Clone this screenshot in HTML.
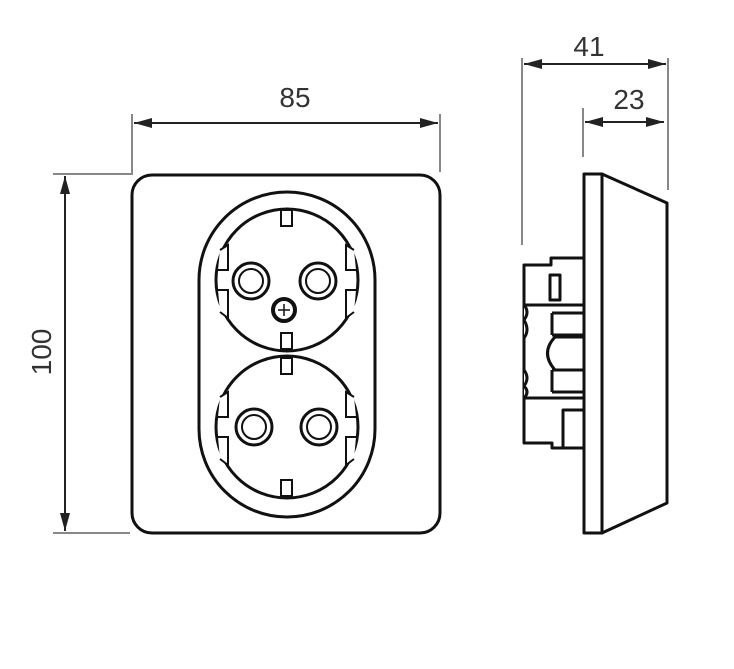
<!DOCTYPE html>
<html><head><style>html,body{margin:0;padding:0;background:#fff}svg{display:block}</style></head>
<body>
<svg width="734" height="669" viewBox="0 0 734 669" xmlns="http://www.w3.org/2000/svg">
<defs>
<marker id="a" markerWidth="18" markerHeight="10" refX="18" refY="5" orient="auto-start-reverse" markerUnits="userSpaceOnUse" viewBox="0 0 18 10"><path d="M0,0 L18,5 L0,10 Z" fill="#222"/></marker>
</defs>
<g stroke="#888" stroke-width="2" fill="none">
<path d="M132,114 V174 H53"/>
<path d="M440,114 V172"/>
<path d="M53,533 H130"/>
<path d="M522,58 V245"/>
<path d="M668,58 V190"/>
<path d="M583,108 V157"/>
</g>
<g stroke="#222" stroke-width="2" fill="none">
<path d="M134,123 H438" marker-start="url(#a)" marker-end="url(#a)"/>
<path d="M65,176 V531" marker-start="url(#a)" marker-end="url(#a)"/>
<path d="M524,64 H666" marker-start="url(#a)" marker-end="url(#a)"/>
<path d="M585,122 H664" marker-start="url(#a)" marker-end="url(#a)"/>
</g>
<g font-family="Liberation Sans, sans-serif" font-size="28" fill="#333" text-anchor="middle">
<text x="295" y="107">85</text>
<text x="589" y="56">41</text>
<text x="629" y="109">23</text>
<text transform="translate(51,352) rotate(-90)">100</text>
</g>
<g stroke="#111" stroke-width="3" fill="none">
<rect x="132" y="175" width="308" height="358" rx="20"/>
<rect x="199" y="192" width="176" height="325" rx="88"/>
<circle cx="287" cy="280" r="71"/>
<circle cx="287" cy="427" r="71"/>
</g>
<g stroke="#111" stroke-width="2" fill="#fff">
<rect x="281" y="210" width="11" height="16"/>
<rect x="281" y="333" width="11" height="16"/>
<rect x="281" y="358" width="11" height="16"/>
<rect x="281" y="480" width="11" height="16"/>
<path d="M220,250 L228,245 L228,270 L218,270"/><path d="M218,290 L228,290 L228,318 L220,312"/>
<path d="M354,250 L346,245 L346,270 L356,270"/><path d="M356,290 L346,290 L346,318 L354,312"/>
<path d="M220,397 L228,392 L228,417 L218,417"/><path d="M218,437 L228,437 L228,465 L220,459"/>
<path d="M354,397 L346,392 L346,417 L356,417"/><path d="M356,437 L346,437 L346,465 L354,459"/>
</g>
<g stroke="#111" fill="none">
<circle cx="251" cy="281" r="18" stroke-width="3"/><circle cx="251" cy="281" r="12" stroke-width="2"/>
<circle cx="318" cy="281" r="18" stroke-width="3"/><circle cx="318" cy="281" r="12" stroke-width="2"/>
<circle cx="254" cy="427" r="18" stroke-width="3"/><circle cx="254" cy="427" r="12" stroke-width="2"/>
<circle cx="319" cy="427" r="18" stroke-width="3"/><circle cx="319" cy="427" r="12" stroke-width="2"/>
<circle cx="284" cy="310" r="11" stroke-width="4"/>
<path d="M278,310 H290 M284,304 V316" stroke-width="1.5"/>
</g>
<g stroke="#111" stroke-width="3" fill="#fff" stroke-linejoin="round">
<path d="M524,265 H551 V258 H584 V448 H552 V443 H524 Z"/>
<path d="M524,305 H584 M524,398 H584"/>
<rect x="550" y="275" width="10" height="25"/>
<path d="M552,313 H584 M552,335 H584 M552,370 H584 M552,392 H584 M552,313 V335 M552,370 V392"/>
<path d="M584,337 H555 Q540,353 555,370 H584" />
<path d="M524,305 Q530,312 524,320 Q530,330 524,338 M524,370 Q530,378 524,386 Q530,392 524,398"/>
<rect x="563" y="410" width="21" height="38"/>
<rect x="584" y="174" width="18" height="359"/>
<path d="M602,174 L667,203 L667,503 L602,533 Z"/>
</g>
</svg>
</body></html>
